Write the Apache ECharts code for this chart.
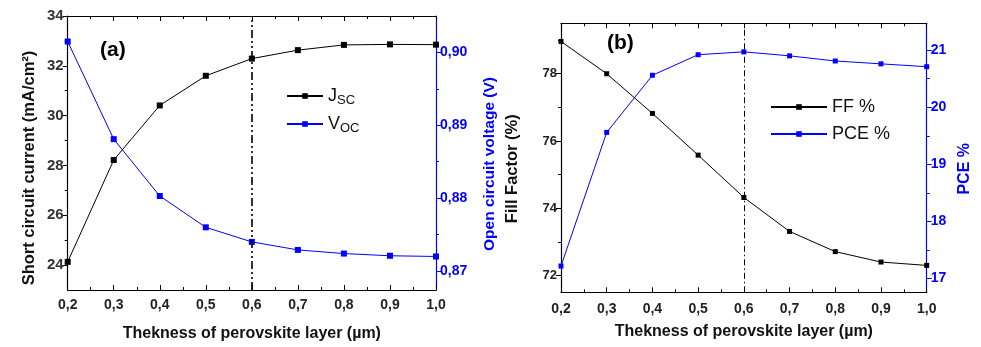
<!DOCTYPE html>
<html>
<head>
<meta charset="utf-8">
<script src="https://cdn.jsdelivr.net/npm/echarts@6/dist/echarts.min.js"></script>
<style>
html,body{margin:0;padding:0;background:#fff;}
#chart{width:981px;height:347px;}
</style>
</head>
<body>
<div id="chart"></div>
<script>
// ---- data ----
var thickness = [0.2, 0.3, 0.4, 0.5, 0.6, 0.7, 0.8, 0.9, 1.0];
var jsc = [24.13, 28.22, 30.41, 31.60, 32.29, 32.63, 32.84, 32.86, 32.85];
var voc = [0.9015, 0.8881, 0.8803, 0.8760, 0.8740, 0.8729, 0.8724, 0.8721, 0.8720];
var ff  = [78.96, 78.00, 76.82, 75.58, 74.32, 73.31, 72.71, 72.40, 72.30];
var pce = [17.22, 19.56, 20.56, 20.92, 20.97, 20.90, 20.81, 20.76, 20.71];

// tick labels
var jscTicks = [24, 26, 28, 30, 32, 34];
var jscMinor = [25, 27, 29, 31, 33];
var vocTicks = [0.87, 0.88, 0.89, 0.90];
var vocMinor = [0.875, 0.885, 0.895];
var ffTicks = [72, 74, 76, 78];
var ffMinor = [73, 75, 77, 79];
var pceTicks = [17, 18, 19, 20, 21];
var pceMinor = [17.5, 18.5, 19.5, 20.5];
var markThickness = 0.6;

function pairs(xs, ys) { return xs.map(function (x, i) { return [x, ys[i]]; }); }
function comma(d) { return function (v) { return v.toFixed(d).replace('.', ','); }; }

var FONT = "'Liberation Sans', Arial, sans-serif";
var BLUE = '#0000ff';

function xAxisPair(grid, labelSize, labelMargin, nameGap) {
  return [{
    gridIndex: grid, type: 'value', position: 'bottom', min: 0.2, max: 1.0, interval: 0.1,
    axisLine: { lineStyle: { color: '#000', width: 1.2 } },
    axisTick: { inside: true, length: 5, lineStyle: { color: '#000', width: 1 } },
    minorTick: { show: true, splitNumber: 2, length: 3, lineStyle: { color: '#000', width: 1 } },
    splitLine: { show: false },
    axisLabel: { formatter: comma(1), fontSize: labelSize, fontWeight: 'bold', color: '#222', fontFamily: FONT, margin: labelMargin },
    name: 'Thekness of perovskite layer (µm)', nameLocation: 'middle', nameGap: nameGap,
    nameTextStyle: { fontSize: 16, fontWeight: 'bold', color: '#111', fontFamily: FONT }
  }, {
    gridIndex: grid, type: 'value', position: 'top', min: 0.2, max: 1.0, interval: 0.1,
    axisLine: { lineStyle: { color: '#000', width: 1.2 } },
    axisTick: { inside: true, length: 5, lineStyle: { color: '#000', width: 1 } },
    minorTick: { show: true, splitNumber: 2, length: 3, lineStyle: { color: '#000', width: 1 } },
    splitLine: { show: false },
    axisLabel: { show: false }
  }];
}

function yMajor(grid, pos, min, max, ticks, fmt, color, labelColor, labelSize, name, nameSize, nameGap, shift) {
  return {
    gridIndex: grid, type: 'value', position: pos, min: min, max: max,
    axisLine: { show: true, lineStyle: { color: color, width: 1.2 } },
    axisTick: { show: true, inside: false, length: 5, customValues: ticks, lineStyle: { color: color, width: 1 } },
    axisLabel: { customValues: ticks, formatter: fmt, fontSize: labelSize, fontWeight: 'bold', color: labelColor, fontFamily: FONT, margin: 4 },
    splitLine: { show: false },
    name: name, nameLocation: 'middle', nameGap: nameGap,
    nameTextStyle: { fontSize: nameSize, fontWeight: 'bold', color: color === '#000' ? '#111' : color, fontFamily: FONT, padding: [0, shift * 2, 0, 0] }
  };
}
function yMinor(grid, pos, min, max, ticks, color) {
  return {
    gridIndex: grid, type: 'value', position: pos, min: min, max: max,
    axisLine: { show: false },
    axisTick: { show: true, inside: false, length: 3, customValues: ticks, lineStyle: { color: color, width: 1 } },
    axisLabel: { show: false },
    splitLine: { show: false }
  };
}

var xa = xAxisPair(0, 14, 8, 36);
var xb = xAxisPair(1, 14, 10, 31);

var option = {
  backgroundColor: '#fff',
  animation: false,
  textStyle: { fontFamily: FONT },
  title: [
    { text: '(a)', left: 95, top: 35, textStyle: { fontSize: 21, fontWeight: 'bold', color: '#000', fontFamily: FONT } },
    { text: '(b)', left: 602, top: 28, textStyle: { fontSize: 21, fontWeight: 'bold', color: '#000', fontFamily: FONT } }
  ],
  grid: [
    { left: 67.7, right: 545, top: 16, bottom: 56.3 },
    { left: 561, right: 54.3, top: 23.3, bottom: 54.7 }
  ],
  legend: [
    {
      data: ['Jsc', 'Voc'], orient: 'vertical', left: 281, top: 82, itemWidth: 36, itemHeight: 7, itemGap: 8,
      formatter: function (n) { return n === 'Jsc' ? '{m|J}{s|SC}' : '{m|V}{s|OC}'; },
      textStyle: { color: '#111', fontFamily: FONT, rich: { m: { fontSize: 18, fontFamily: FONT, color: '#111' }, s: { fontSize: 13, fontFamily: FONT, color: '#111', padding: [9, 0, 0, 0] } } }
    },
    {
      data: ['FF %', 'PCE %'], orient: 'vertical', left: 765, top: 93, itemWidth: 56, itemHeight: 7, itemGap: 9,
      textStyle: { color: '#111', fontSize: 18, fontFamily: FONT }
    }
  ],
  xAxis: [xa[0], xa[1], xb[0], xb[1]],
  yAxis: [
    yMajor(0, 'left', 23, 34, jscTicks, function (v) { return String(v); }, '#000', '#333', 15, 'Short circuit current (mA/cm²)', 16.5, 30, 15),
    yMinor(0, 'left', 23, 34, jscMinor, '#000'),
    yMajor(0, 'right', 0.8674, 0.905, vocTicks, comma(2), BLUE, BLUE, 14, 'Open circuit voltage (V)', 15.5, 46, 11),
    yMinor(0, 'right', 0.8674, 0.905, vocMinor, BLUE),
    yMajor(1, 'left', 71.5, 79.5, ffTicks, function (v) { return String(v); }, '#000', '#222', 13, 'Fill Factor (%)', 16.5, 40, 11),
    yMinor(1, 'left', 71.5, 79.5, ffMinor, '#000'),
    yMajor(1, 'right', 16.76, 21.47, pceTicks, function (v) { return String(v); }, BLUE, BLUE, 14, 'PCE %', 16, 30, 11),
    yMinor(1, 'right', 16.76, 21.47, pceMinor, BLUE)
  ],
  series: [
    {
      name: 'Jsc', type: 'line', xAxisIndex: 0, yAxisIndex: 0, data: pairs(thickness, jsc),
      symbol: 'rect', symbolSize: 6, itemStyle: { color: '#000' }, lineStyle: { color: '#000', width: 1 },
      markLine: { silent: true, symbol: 'none', label: { show: false }, lineStyle: { color: '#000', width: 1.6, type: [8, 3, 2, 3, 2, 3] }, data: [{ xAxis: markThickness }] }
    },
    {
      name: 'Voc', type: 'line', xAxisIndex: 0, yAxisIndex: 2, data: pairs(thickness, voc),
      symbol: 'rect', symbolSize: 6, itemStyle: { color: BLUE }, lineStyle: { color: BLUE, width: 1 }
    },
    {
      name: 'FF %', type: 'line', xAxisIndex: 2, yAxisIndex: 4, data: pairs(thickness, ff),
      symbol: 'rect', symbolSize: 5, itemStyle: { color: '#000' }, lineStyle: { color: '#000', width: 1 },
      markLine: { silent: true, symbol: 'none', label: { show: false }, lineStyle: { color: '#000', width: 1, type: [6, 3, 1.5, 3] }, data: [{ xAxis: markThickness }] }
    },
    {
      name: 'PCE %', type: 'line', xAxisIndex: 2, yAxisIndex: 6, data: pairs(thickness, pce),
      symbol: 'rect', symbolSize: 5, itemStyle: { color: BLUE }, lineStyle: { color: BLUE, width: 1 }
    }
  ]
};

var chart = echarts.init(document.getElementById('chart'), null, { renderer: 'canvas' });
chart.setOption(option);
</script>
</body>
</html>
